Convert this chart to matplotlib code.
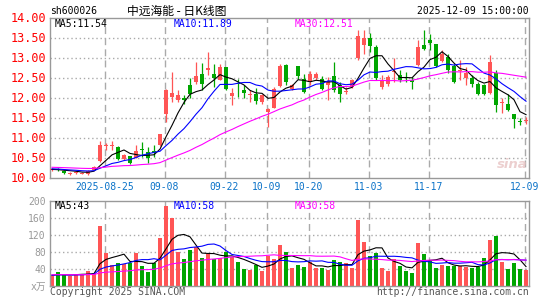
import matplotlib
matplotlib.use("Agg")
import matplotlib.pyplot as plt
import numpy as np
import pandas as pd

# ---- data (price in yuan, volume in 万手) ----
opens = [10.19, 10.22, 10.17, 10.10, 10.11, 10.10, 10.10, 10.20, 10.42, 10.78,
         10.79, 10.77, 10.47, 10.53, 10.50, 10.71, 10.64, 10.66, 10.81, 11.58,
         12.02, 11.93, 12.00, 12.30, 12.39, 12.60, 12.70, 12.60, 12.45, 12.77,
         12.03, 12.36, 12.20, 12.07, 12.10, 11.90, 11.64, 11.75, 12.30, 12.81,
         12.22, 12.78, 12.47, 12.39, 12.50, 12.47, 12.32, 12.53, 12.30, 12.13,
         12.27, 12.98, 13.31, 13.48, 13.27, 12.27, 12.35, 12.63, 12.56, 12.51,
         12.43, 12.81, 13.31, 13.45, 13.33, 12.92, 13.02, 12.78, 12.67, 12.48,
         12.50, 12.33, 12.31, 12.12, 12.62, 11.86, 11.85, 11.58, 11.42, 11.42]
highs = [10.25, 10.24, 10.18, 10.15, 10.16, 10.15, 10.18, 10.28, 10.92, 10.86,
         10.92, 10.80, 10.60, 10.55, 10.81, 10.89, 10.77, 10.81, 11.10, 12.22,
         12.64, 12.20, 12.06, 12.50, 12.89, 12.87, 13.14, 12.85, 12.85, 12.77,
         12.23, 12.47, 12.31, 12.18, 12.23, 12.10, 11.75, 12.27, 12.85, 12.85,
         12.35, 12.80, 12.60, 12.67, 12.64, 12.53, 12.52, 12.89, 12.39, 12.27,
         12.47, 13.68, 13.68, 13.62, 13.31, 12.56, 12.56, 12.98, 12.68, 12.64,
         12.52, 13.43, 13.70, 13.58, 13.35, 13.20, 13.10, 12.85, 12.93, 12.77,
         12.56, 12.39, 12.35, 13.06, 12.68, 12.00, 12.08, 11.60, 11.48, 11.52]
lows = [10.17, 10.16, 10.08, 10.07, 10.08, 10.08, 10.07, 10.18, 10.40, 10.68,
        10.70, 10.45, 10.45, 10.35, 10.48, 10.52, 10.37, 10.52, 10.78, 11.39,
        11.89, 11.89, 11.85, 12.00, 12.35, 12.18, 12.56, 12.27, 12.43, 12.18,
        11.81, 12.02, 12.00, 11.90, 11.85, 11.85, 11.27, 11.73, 12.27, 12.31,
        12.18, 12.47, 12.12, 12.31, 12.43, 12.18, 11.93, 12.14, 11.90, 12.08,
        12.23, 12.95, 13.10, 13.15, 12.45, 12.22, 12.30, 12.39, 12.39, 12.39,
        12.22, 12.79, 13.18, 13.18, 12.77, 12.90, 12.62, 12.37, 12.43, 12.31,
        12.27, 12.06, 12.06, 12.10, 11.64, 11.62, 11.66, 11.23, 11.32, 11.35]
closes = [10.22, 10.19, 10.12, 10.12, 10.13, 10.12, 10.16, 10.26, 10.80, 10.80,
          10.81, 10.47, 10.56, 10.37, 10.66, 10.69, 10.50, 10.62, 11.08, 12.20,
          12.12, 12.05, 11.93, 12.10, 12.53, 12.33, 12.73, 12.50, 12.77, 12.22,
          12.12, 12.34, 12.12, 12.09, 11.91, 12.06, 11.72, 12.22, 12.78, 12.39,
          12.30, 12.53, 12.14, 12.60, 12.58, 12.22, 12.40, 12.18, 12.10, 12.15,
          12.43, 13.53, 13.48, 13.30, 12.48, 12.43, 12.50, 12.65, 12.43, 12.49,
          12.39, 13.27, 13.22, 13.37, 12.78, 13.08, 12.68, 12.39, 12.69, 12.60,
          12.33, 12.10, 12.08, 12.89, 11.81, 11.88, 11.68, 11.46, 11.40, 11.44]
volumes = [23, 32, 25, 23, 27, 27, 34, 31, 140, 77,
           49, 53, 52, 54, 77, 47, 33, 53, 113, 187,
           160, 80, 63, 85, 90, 66, 75, 62, 66, 80,
           68, 56, 39, 37, 49, 35, 71, 63, 96, 79,
           42, 49, 44, 56, 42, 42, 37, 60, 56, 53,
           42, 154, 102, 70, 78, 41, 35, 62, 47, 35,
           31, 100, 74, 58, 42, 49, 47, 47, 47, 45,
           42, 44, 66, 107, 117, 55, 40, 54, 39, 37]

# sessions before the visible window, only used to seed the moving averages
prior_closes = [10.30, 10.28, 10.27, 10.31, 10.29, 10.26, 10.25, 10.28, 10.30, 10.27,
                10.24, 10.26, 10.29, 10.31, 10.28, 10.25, 10.24, 10.27, 10.29, 10.26,
                10.23, 10.25, 10.22, 10.21, 10.24, 10.22, 10.19, 10.18, 10.20]
prior_volumes = [26, 27, 25, 28, 26, 24, 27, 29, 25, 26,
                 28, 27, 25, 24, 26, 27, 28, 25, 26, 27,
                 24, 25, 27, 26, 25, 24, 26, 25, 24]

date_ticks = [9, 19, 29, 36, 43, 53, 63, 79]
date_labels = ["2025-08-25", "09-08", "09-22", "10-09", "10-20", "11-03", "11-17", "12-09"]
price_ticks = [10.0, 10.5, 11.0, 11.5, 12.0, 12.5, 13.0, 13.5, 14.0]
vol_ticks = [40, 80, 120, 160, 200]

ma_price_text = ["MA5:11.54", "MA10:11.89", "MA30:12.51"]
ma_vol_text = ["MA5:43", "MA10:58", "MA30:58"]

RED = "#ff5555"
GREEN = "#00a600"
GRID = "#aaaaaa"
MA_COLORS = ["#000000", "#0000ff", "#ff00ff"]
W, H = 545, 300


def fx(px):
    return px / W


def fy(py):
    return 1 - py / H


plt.rcParams["font.family"] = ["DejaVu Sans Mono", "Noto Sans CJK SC"]

n = len(closes)
x = np.arange(n)
o, h, l, c = (np.array(a) for a in (opens, highs, lows, closes))
v = np.array(volumes)
up = c >= o
colors = np.where(up, RED, GREEN)

close_s = pd.Series(prior_closes + closes)
vol_s = pd.Series(prior_volumes + volumes)
k = len(prior_closes)
price_ma = [close_s.rolling(p).mean().to_numpy()[k:] for p in (5, 10, 30)]
vol_ma = [vol_s.rolling(p).mean().to_numpy()[k:] for p in (5, 10, 30)]

fig = plt.figure(figsize=(W / 100, H / 100), dpi=100)
ax = fig.add_axes([fx(50), fy(177.5), fx(479), 160 / H])
axv = fig.add_axes([fx(50), fy(285.7), fx(479), 85 / H])

xlim = (-1 / 3, 79.5)
for a in (ax, axv):
    a.set_xlim(*xlim)
    for s in a.spines.values():
        s.set_color("#999999")
        s.set_linewidth(1)
    for t in date_ticks:
        a.axvline(t - 0.2, color=GRID, lw=1, ls=(0, (5, 3)), zorder=0)
    a.tick_params(length=0)
    a.set_xticks([])

# price panel
ax.set_ylim(10, 14)
for yv in price_ticks[1:-1]:
    ax.axhline(yv, color=GRID, lw=1, ls=(0, (1, 2)), zorder=0)
ax.vlines(x, l, h, colors=colors, lw=0.9, zorder=2)
body = np.maximum(np.abs(c - o), 0.012)
ax.bar(x, body, bottom=np.minimum(o, c), width=0.72, color=colors, lw=0, zorder=3)
for ma, col in zip(price_ma, MA_COLORS):
    ax.plot(x, ma, color=col, lw=0.8, zorder=4)
ax.set_yticks(price_ticks)
ax.set_yticklabels([f"{t:.2f}" for t in price_ticks], color="#ff0000", fontsize=8.5)
ax.tick_params(axis="y", pad=3)

# volume panel
axv.set_ylim(0, 200)
for yv in vol_ticks[:-1]:
    axv.axhline(yv, color=GRID, lw=1, ls=(0, (1, 2)), zorder=0)
axv.bar(x, v, width=0.8, color=colors, lw=0, zorder=2)
for ma, col in zip(vol_ma, MA_COLORS):
    axv.plot(x, ma, color=col, lw=0.8, zorder=4)
axv.set_yticks([0] + vol_ticks)
axv.set_yticklabels(["x万"] + [str(t) for t in vol_ticks], color="#999999", fontsize=7)
axv.tick_params(axis="y", pad=3)

# date labels
for t, lab in zip(date_ticks, date_labels):
    px = 52 + 6 * t - 1.5
    fig.text(fx(px), fy(187), lab, ha="center", va="center", fontsize=7, color="#0a72c8")

# header
fig.text(fx(50), fy(11), "sh600026", ha="left", va="center", fontsize=7, color="#000000")
fig.text(fx(177), fy(11), "中远海能 - 日K线图", ha="center", va="center", fontsize=8.5,
         family=["Noto Sans CJK SC", "DejaVu Sans"], color="#000000")
fig.text(fx(529), fy(11), "2025-12-09 15:00:00", ha="right", va="center", fontsize=7,
         color="#000000")

# moving-average captions
for px, txt, col in zip((55, 174, 295), ma_price_text, MA_COLORS):
    fig.text(fx(px), fy(24), txt, ha="left", va="center", fontsize=7, color=col)
for px, txt, col in zip((55, 174, 295), ma_vol_text, MA_COLORS):
    fig.text(fx(px), fy(206), txt, ha="left", va="center", fontsize=7, color=col)

# watermark + footer
fig.text(fx(512), fy(164), "sina", ha="center", va="center", fontsize=9.5, style="italic",
         weight="bold", family="DejaVu Sans", color="#e8c4c4", alpha=0.8)
fig.text(fx(50), fy(292), "Copyright 2025 SINA.COM", ha="left", va="center",
         fontsize=7, color="#555555")
fig.text(fx(529), fy(292), "http://finance.sina.com.cn", ha="right", va="center",
         fontsize=7, color="#555555")

fig.savefig("out.png", dpi=100, facecolor="white")
